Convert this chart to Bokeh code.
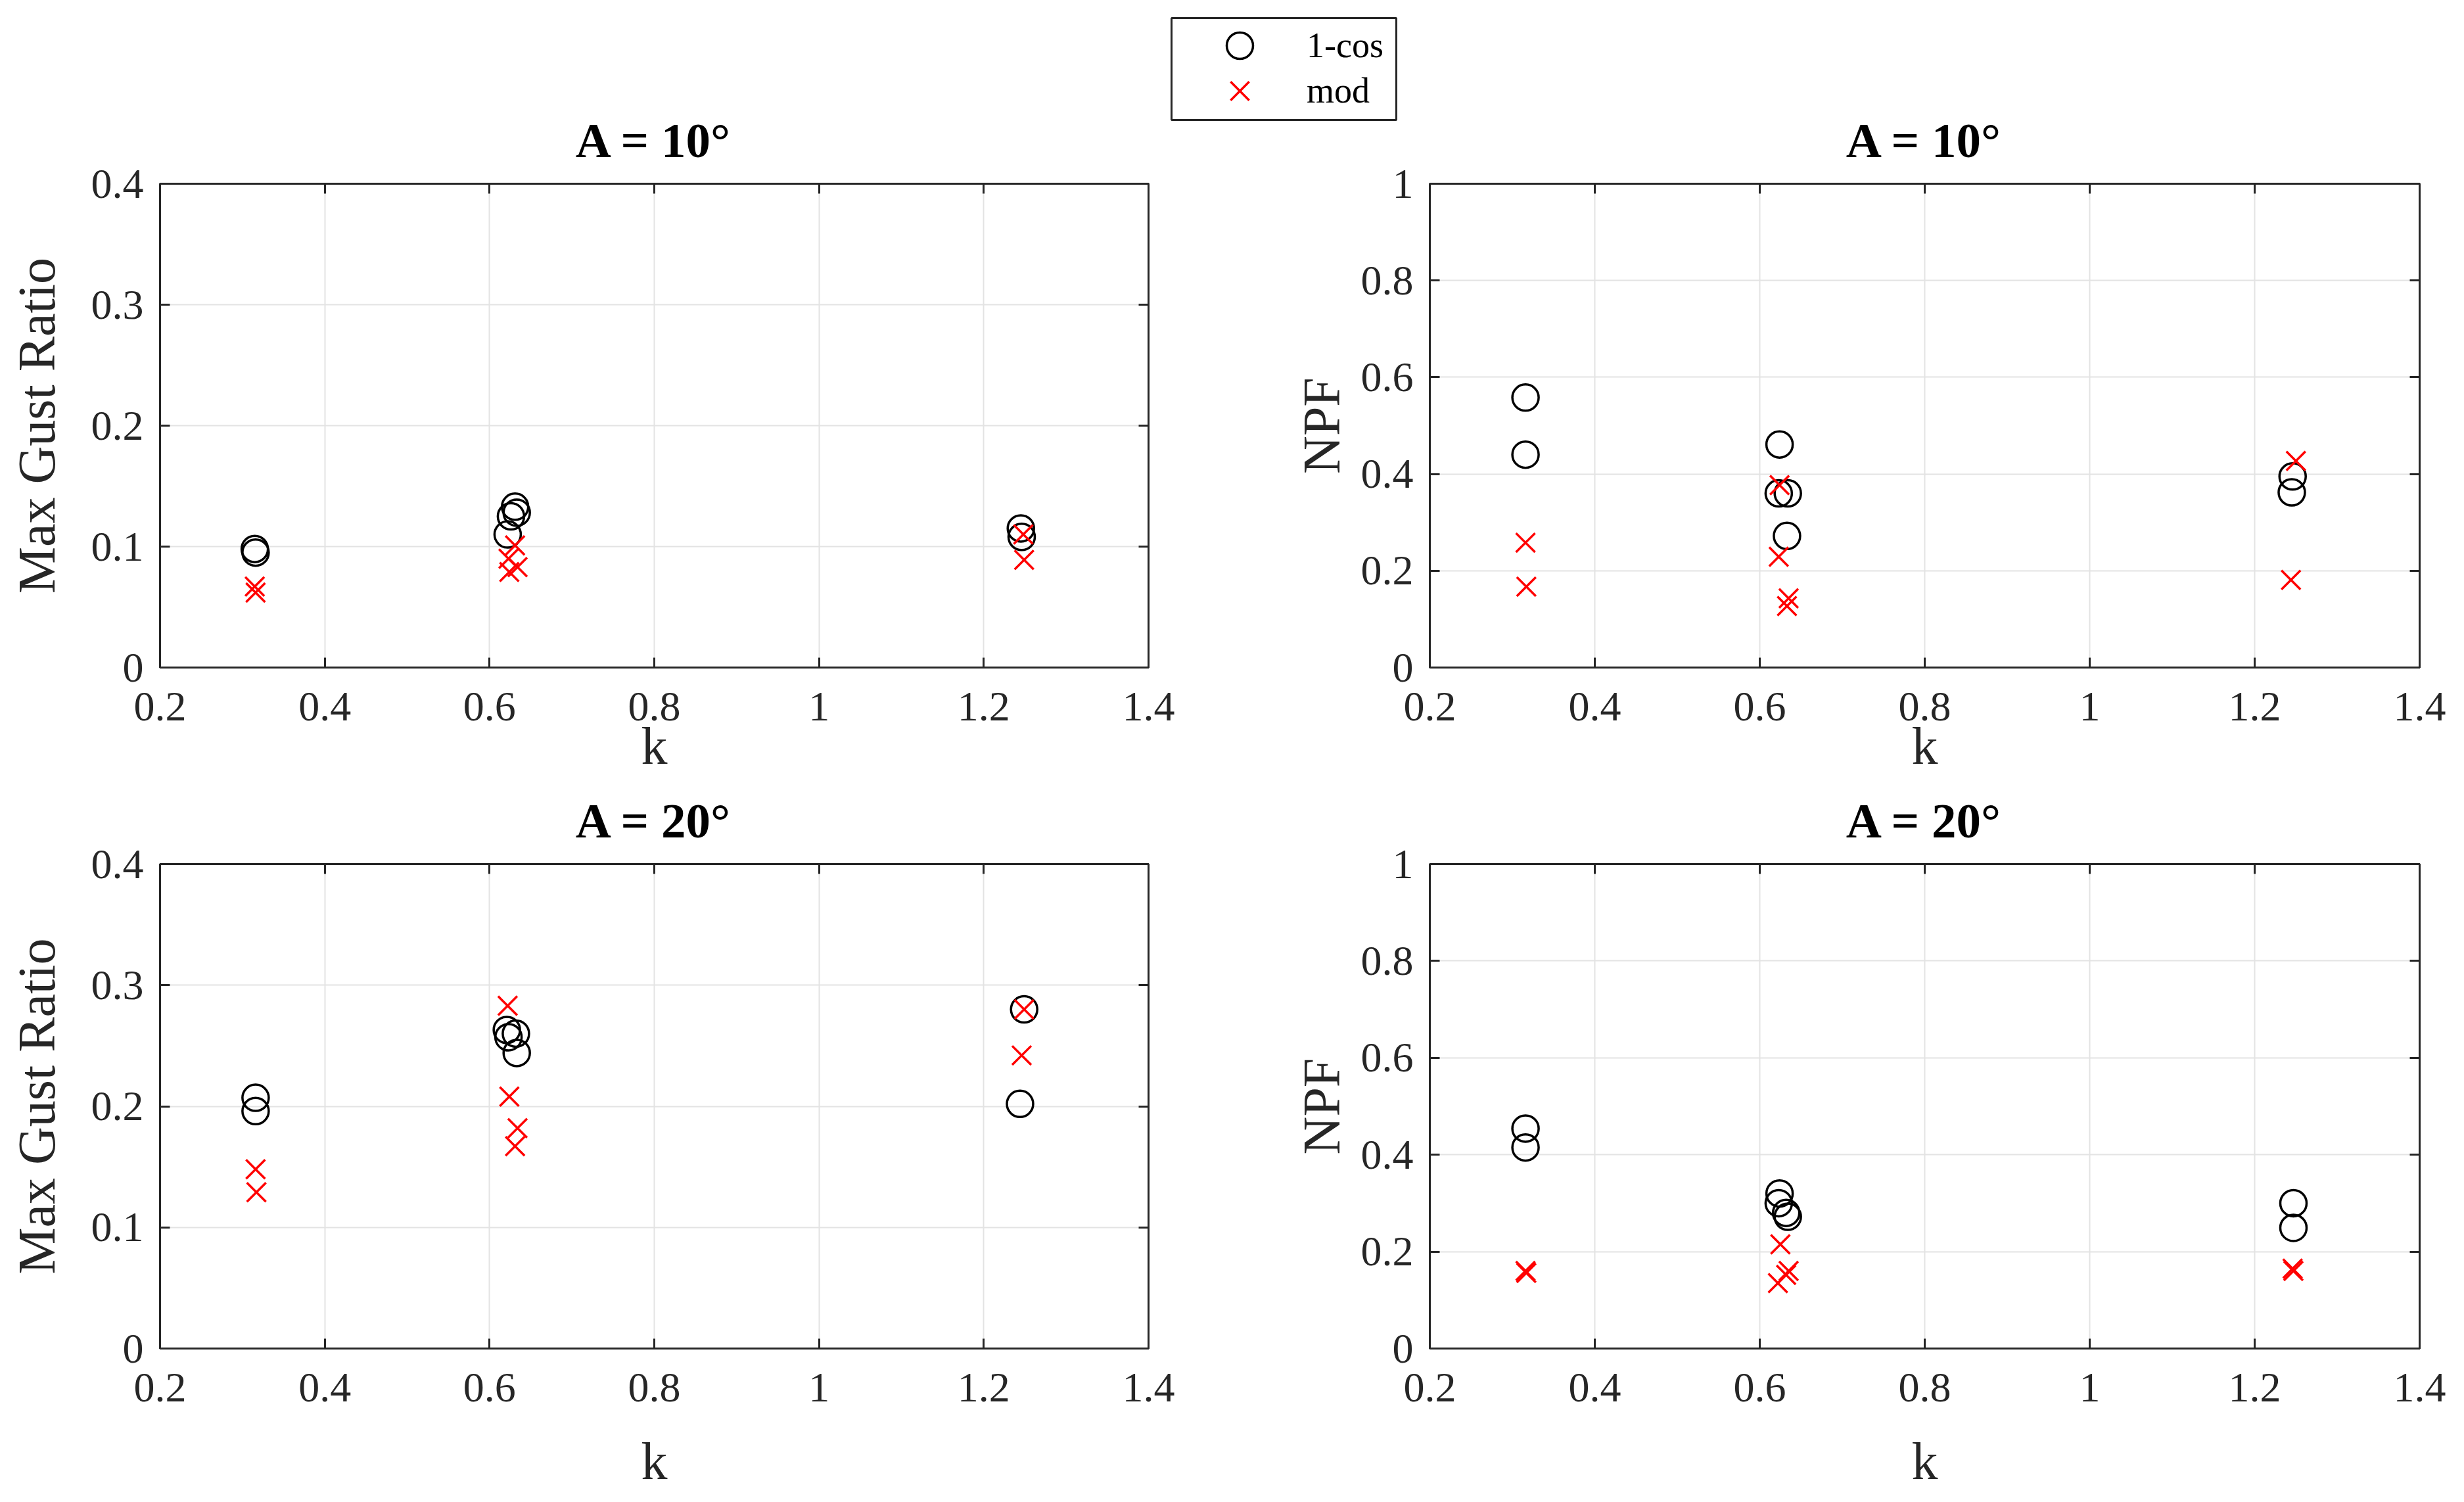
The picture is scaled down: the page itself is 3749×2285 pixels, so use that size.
from bokeh.plotting import figure
from bokeh.models import (Range1d, LinearAxis, FixedTicker, Legend, LegendItem,
                          CustomJSTickFormatter, Label, BoxAnnotation)
from bokeh.layouts import column, row
from bokeh.embed import file_html
from bokeh.resources import INLINE

# ---------------- data ----------------
x_ticks = [0.2, 0.4, 0.6, 0.8, 1.0, 1.2, 1.4]
gust_ticks = [0.0, 0.1, 0.2, 0.3, 0.4]
npf_ticks = [0.0, 0.2, 0.4, 0.6, 0.8, 1.0]

# A = 10 deg, Max Gust Ratio
k_cos_g10 = [0.315, 0.316, 0.622, 0.626, 0.631, 0.633, 1.245, 1.246]
cos_g10 = [0.098, 0.095, 0.110, 0.125, 0.133, 0.128, 0.115, 0.108]
k_mod_g10 = [0.315, 0.316, 0.623, 0.624, 0.631, 0.634, 1.248, 1.249]
mod_g10 = [0.067, 0.062, 0.090, 0.079, 0.101, 0.083, 0.110, 0.089]

# A = 10 deg, NPF
k_cos_n10 = [0.316, 0.316, 0.624, 0.623, 0.634, 0.633, 1.246, 1.245]
cos_n10 = [0.558, 0.440, 0.461, 0.360, 0.360, 0.272, 0.395, 0.362]
k_mod_n10 = [0.316, 0.317, 0.624, 0.623, 0.635, 0.633, 1.250, 1.244]
mod_n10 = [0.258, 0.167, 0.377, 0.229, 0.143, 0.127, 0.427, 0.181]

# A = 20 deg, Max Gust Ratio
k_cos_g20 = [0.316, 0.316, 0.621, 0.623, 0.632, 0.633, 1.249, 1.244]
cos_g20 = [0.207, 0.196, 0.263, 0.257, 0.260, 0.244, 0.280, 0.202]
k_mod_g20 = [0.316, 0.317, 0.622, 0.624, 0.634, 0.631, 1.249, 1.246]
mod_g20 = [0.148, 0.129, 0.283, 0.208, 0.182, 0.167, 0.280, 0.242]

# A = 20 deg, NPF
k_cos_n20 = [0.316, 0.316, 0.624, 0.623, 0.632, 0.634, 1.247, 1.247]
cos_n20 = [0.454, 0.415, 0.320, 0.300, 0.280, 0.272, 0.300, 0.249]
k_mod_n20 = [0.316, 0.317, 0.625, 0.622, 0.635, 0.632, 1.246, 1.247]
mod_n20 = [0.160, 0.156, 0.215, 0.135, 0.160, 0.152, 0.165, 0.160]

series_names = ["1-cos", "mod"]
titles = ["A = 10°", "A = 20°"]
ylabels = ["Max Gust Ratio", "NPF"]

# ---------------- styling ----------------
FONT = "Liberation Serif"
AX = "#262626"
GRID = "#e3e3e3"
FMT = "return (Math.round(tick*10)/10).toString();"
CIRCLE_SIZE = 40
X_SIZE = 41

# page geometry (px, the page has no margin)
W_L, W_R = 1960, 1789
W_ALL = W_L + W_R
FRAME_L = (243, 1747)       # left column frame (page x)
FRAME_R = (2175, 3681)      # right column frame (page x)
H_LEG, OV1 = 262, 22        # legend + top titles strip, overlap with row 1
H_TOP = 960
H_MID, OV2 = 90, 15         # bottom titles strip, overlap with row 2
H_BOT = 1010


def style_axis(ax, ticks, show_labels=True, standoff=25):
    ax.ticker = FixedTicker(ticks=ticks)
    ax.formatter = CustomJSTickFormatter(code=FMT)
    ax.axis_line_color = AX
    ax.axis_line_width = 3
    ax.major_tick_line_color = AX
    ax.major_tick_line_width = 3
    ax.major_tick_in = 15
    ax.major_tick_out = 0
    ax.minor_tick_line_color = None
    ax.major_label_text_font = FONT
    ax.major_label_text_color = AX
    if show_labels:
        ax.major_label_text_font_size = "64px"
        ax.major_label_standoff = standoff
    else:
        ax.major_label_text_font_size = "0px"
        ax.major_label_text_alpha = 0
        ax.major_label_standoff = 0
    ax.axis_label_text_font = FONT
    ax.axis_label_text_font_size = "80px"
    ax.axis_label_text_font_style = "normal"
    ax.axis_label_text_color = AX


def make_panel(ylabel, ymax, yticks, kc, yc, km, ym, width, height,
               mbl, mbr, mbt, mbb, ylab_standoff, xlab_standoff):
    p = figure(width=width, height=height, x_range=Range1d(0.2, 1.4),
               y_range=Range1d(0, ymax), output_backend="svg",
               toolbar_location=None, min_border_left=mbl, min_border_right=mbr,
               min_border_top=mbt, min_border_bottom=mbb,
               background_fill_color="white", border_fill_color=None)

    style_axis(p.xaxis[0], x_ticks, standoff=38)
    style_axis(p.yaxis[0], yticks, standoff=25)
    p.xaxis.axis_label = "k"
    p.yaxis.axis_label = ylabel
    p.xaxis.axis_label_standoff = xlab_standoff
    p.yaxis.axis_label_standoff = ylab_standoff

    top = LinearAxis()
    style_axis(top, x_ticks, show_labels=False)
    p.add_layout(top, "above")
    right = LinearAxis()
    style_axis(right, yticks, show_labels=False)
    p.add_layout(right, "right")

    p.xgrid.ticker = FixedTicker(ticks=x_ticks)
    p.ygrid.ticker = FixedTicker(ticks=yticks)
    p.grid.grid_line_color = GRID
    p.grid.grid_line_width = 2
    p.outline_line_color = AX
    p.outline_line_width = 3

    p.scatter(kc, yc, marker="circle", size=CIRCLE_SIZE, fill_color=None,
              line_color="black", line_width=3.5)
    p.scatter(km, ym, marker="x", size=X_SIZE, line_color="#ff0000",
              line_width=3.5)
    return p


def strip(height, y_top, overlap):
    # a blank full-width strip whose data coordinates equal page pixels
    s = figure(width=W_ALL, height=height, x_range=Range1d(0, W_ALL),
               y_range=Range1d(y_top + height, y_top), x_axis_type=None,
               y_axis_type=None, output_backend="svg", toolbar_location=None,
               min_border=0, outline_line_color=None,
               background_fill_color="white", border_fill_color="white",
               margin=(0, 0, -overlap, 0))
    s.grid.visible = False
    return s


def add_title(s, text, x_center, ypos):
    s.add_layout(Label(x=x_center, y=ypos, text=text, text_align="center",
                       text_baseline="alphabetic", text_font=FONT,
                       text_font_size="75px", text_font_style="bold",
                       text_color="black"))


top_y = H_LEG - OV1
mid_y = top_y + H_TOP
bot_y = mid_y + H_MID - OV2

p1 = make_panel(ylabels[0], 0.4, gust_ticks, k_cos_g10, cos_g10, k_mod_g10,
                mod_g10, W_L, H_TOP, FRAME_L[0], W_L - FRAME_L[1],
                279 - top_y, top_y + H_TOP - 1015, 36, -8)
p2 = make_panel(ylabels[1], 1.0, npf_ticks, k_cos_n10, cos_n10, k_mod_n10,
                mod_n10, W_R, H_TOP, FRAME_R[0] - W_L, W_ALL - FRAME_R[1],
                279 - top_y, top_y + H_TOP - 1015, 13, -8)
p3 = make_panel(ylabels[0], 0.4, gust_ticks, k_cos_g20, cos_g20, k_mod_g20,
                mod_g20, W_L, H_BOT, FRAME_L[0], W_L - FRAME_L[1],
                1314 - bot_y, bot_y + H_BOT - 2051, 36, 44)
p4 = make_panel(ylabels[1], 1.0, npf_ticks, k_cos_n20, cos_n20, k_mod_n20,
                mod_n20, W_R, H_BOT, FRAME_R[0] - W_L, W_ALL - FRAME_R[1],
                1314 - bot_y, bot_y + H_BOT - 2051, 13, 44)

# ---- top strip: legend + titles of the first row ----
lf = strip(H_LEG, 0, OV1)
lf.add_layout(BoxAnnotation(left=1782, right=2124, top=27, bottom=182,
                            fill_color="white", fill_alpha=1.0,
                            line_color=AX, line_width=3, line_alpha=1.0))
r1 = lf.scatter([-100], [-100], marker="circle", size=CIRCLE_SIZE,
                fill_color=None, line_color="black", line_width=3.5)
r2 = lf.scatter([-100], [-100], marker="x", size=X_SIZE,
                line_color="#ff0000", line_width=3.5)
common = dict(margin=0, padding=0, spacing=0, label_text_font=FONT,
              label_text_font_size="54px", label_text_color="black",
              border_line_color=None, background_fill_alpha=0.0,
              glyph_width=100, glyph_height=100, label_standoff=52)
leg1 = Legend(items=[LegendItem(label=series_names[0], renderers=[r1])],
              location=(1836, H_LEG - 69 - 50), **common)
leg2 = Legend(items=[LegendItem(label=series_names[1], renderers=[r2])],
              location=(1836, H_LEG - 138 - 50), **common)
lf.add_layout(leg1, "center")
lf.add_layout(leg2, "center")
add_title(lf, titles[0], sum(FRAME_L) / 2, 213)
add_title(lf, titles[0], sum(FRAME_R) / 2, 213)

# ---- middle strip: titles of the second row ----
mf = strip(H_MID, mid_y, OV2)
add_title(mf, titles[1], sum(FRAME_L) / 2, 1248)
add_title(mf, titles[1], sum(FRAME_R) / 2, 1248)

layout = column(lf, row(p1, p2), mf, row(p3, p4))

open("out.html", "w").write(file_html(layout, INLINE))
